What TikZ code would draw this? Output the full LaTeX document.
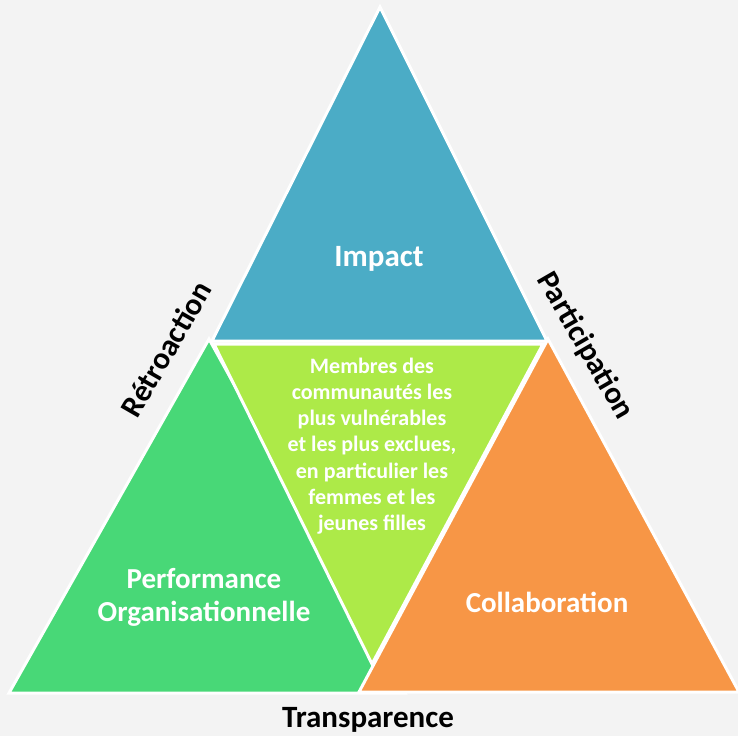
\documentclass[tikz,border=0pt]{standalone}
\usepackage{fontspec}
\setmainfont{Carlito}
\definecolor{bg}{HTML}{F3F3F3}
\definecolor{cblue}{HTML}{4BACC6}
\definecolor{cgreen}{HTML}{48D877}
\definecolor{clime}{HTML}{ADEA48}
\definecolor{corange}{HTML}{F79646}
\tikzset{
  tri/.style={draw=white, line width=3pt, line join=miter},
  bigtxt/.style={text=white, font=\fontsize{29}{33}\selectfont\bfseries, align=center},
  boldtxt/.style={text=white, font=\fontsize{31}{35}\selectfont\bfseries, align=center},
  midtxt/.style={text=white, font=\fontsize{22}{26.2}\selectfont\bfseries, align=center},
  sidelbl/.style={text=black, font=\fontsize{31}{35}\selectfont\bfseries}
}
\begin{document}
\begin{tikzpicture}[x=1pt,y=-1pt]
\fill[bg] (0,0) rectangle (738,736);
\useasboundingbox (0,0) rectangle (738,736);
% blue (top)
\coordinate (bA) at (380,7);
\coordinate (bB) at (212,341);
\coordinate (bC) at (547,341);
\filldraw[tri, fill=cblue] (bA) -- (bB) -- (bC) -- cycle;
% green (left)
\coordinate (gA) at (209,339);
\coordinate (gB) at (9,693);
\coordinate (gC) at (405,693);
\filldraw[tri, fill=cgreen] (gA) -- (gB) -- (gC) -- cycle;
% orange (right)
\coordinate (oA) at (548,339);
\coordinate (oB) at (359,692);
\coordinate (oC) at (739,692);
\filldraw[tri, fill=corange] (oA) -- (oB) -- (oC) -- cycle;
% lime (centre, inverted)
\coordinate (lA) at (214,344);
\coordinate (lB) at (543,344);
\coordinate (lC) at (372,664);
\filldraw[tri, fill=clime] (lA) -- (lB) -- (lC) -- cycle;
% texts
\node[boldtxt] (impact) at (379,259) {Impact};
\node[bigtxt] (perf) at (204,597) {Performance\\Organisationnelle};
\node[bigtxt] (collab) at (547,602) {Collaboration};
\node[midtxt] (membres) at (372,446) {Membres des\\communautés les\\plus vulnérables\\et les plus exclues,\\en particulier les\\femmes et les\\jeunes filles};
% side labels
\node[sidelbl, rotate=60] (retro) at (166,349) {Rétroaction};
\node[sidelbl, rotate=-60] (partic) at (585,346) {Participation};
\node[sidelbl] (transp) at (368,720) {Transparence};
\end{tikzpicture}
\end{document}
